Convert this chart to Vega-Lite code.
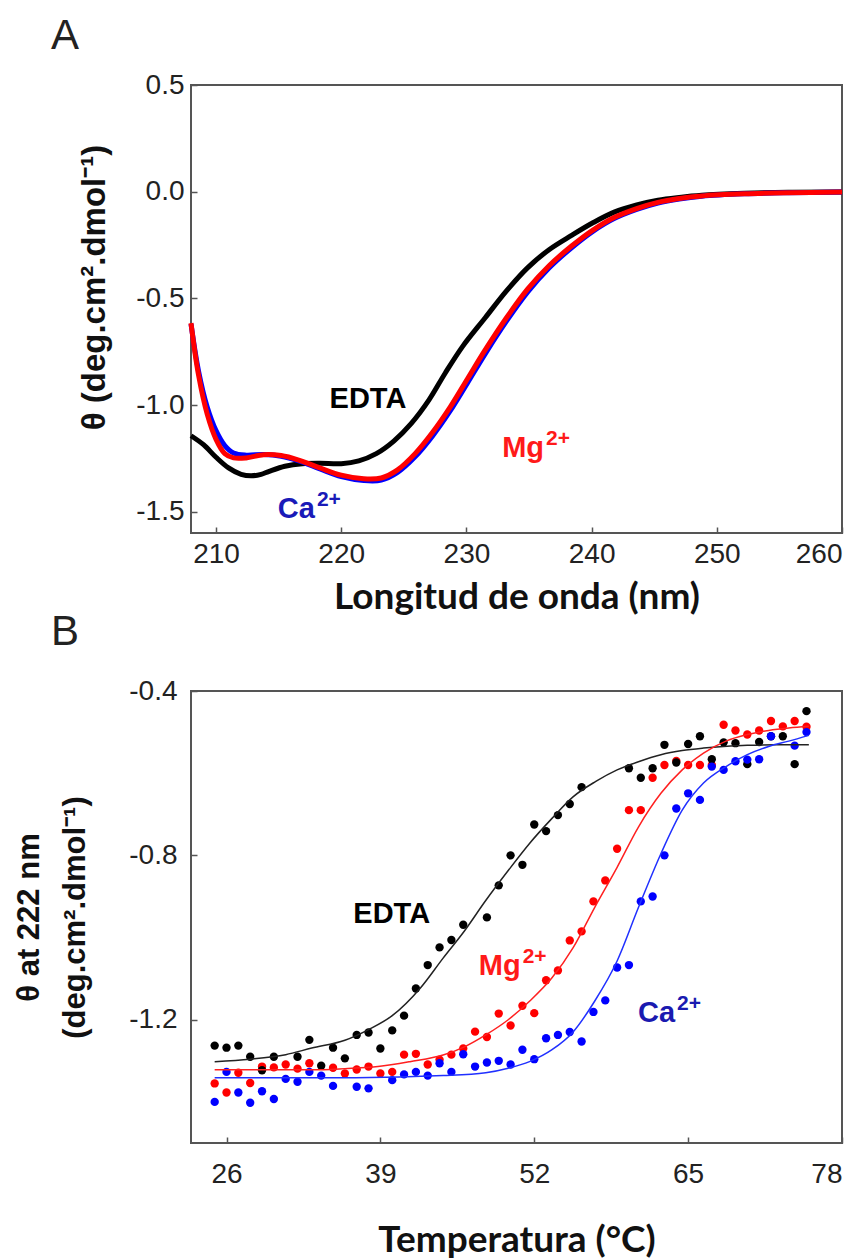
{
  "$schema": "https://vega.github.io/schema/vega-lite/v6.json",
  "background": "white",
  "padding": {"left": 12, "top": 14, "right": 0, "bottom": 0},
  "spacing": -6,
  "config": {
    "view": {"stroke": "#555555", "strokeWidth": 2},
    "axis": {
      "domain": false,
      "grid": false,
      "tickColor": "#555555",
      "tickWidth": 1.5,
      "tickSize": -6,
      "labelFont": "Liberation Sans",
      "labelFontSize": 28,
      "labelColor": "#222222",
      "titleColor": "#111111"
    },
    "title": {"font": "Liberation Sans", "fontSize": 42, "fontWeight": "normal", "color": "#222222", "anchor": "start", "frame": "group"}
  },
  "datasets": {
    "spectra": [
      {"wl": 208, "theta": -1.144, "ion": "EDTA"},
      {"wl": 209, "theta": -1.186, "ion": "EDTA"},
      {"wl": 210, "theta": -1.245, "ion": "EDTA"},
      {"wl": 211, "theta": -1.295, "ion": "EDTA"},
      {"wl": 212, "theta": -1.325, "ion": "EDTA"},
      {"wl": 212.8, "theta": -1.332, "ion": "EDTA"},
      {"wl": 213.6, "theta": -1.325, "ion": "EDTA"},
      {"wl": 214.2, "theta": -1.312, "ion": "EDTA"},
      {"wl": 215.5, "theta": -1.287, "ion": "EDTA"},
      {"wl": 216.9, "theta": -1.275, "ion": "EDTA"},
      {"wl": 218.3, "theta": -1.273, "ion": "EDTA"},
      {"wl": 220, "theta": -1.275, "ion": "EDTA"},
      {"wl": 221.4, "theta": -1.262, "ion": "EDTA"},
      {"wl": 222.8, "theta": -1.228, "ion": "EDTA"},
      {"wl": 224.2, "theta": -1.169, "ion": "EDTA"},
      {"wl": 225.6, "theta": -1.086, "ion": "EDTA"},
      {"wl": 227, "theta": -0.977, "ion": "EDTA"},
      {"wl": 228.3, "theta": -0.851, "ion": "EDTA"},
      {"wl": 229.7, "theta": -0.725, "ion": "EDTA"},
      {"wl": 231.5, "theta": -0.591, "ion": "EDTA"},
      {"wl": 233.2, "theta": -0.465, "ion": "EDTA"},
      {"wl": 234.9, "theta": -0.356, "ion": "EDTA"},
      {"wl": 236.6, "theta": -0.272, "ion": "EDTA"},
      {"wl": 238.4, "theta": -0.205, "ion": "EDTA"},
      {"wl": 240.1, "theta": -0.146, "ion": "EDTA"},
      {"wl": 241.8, "theta": -0.096, "ion": "EDTA"},
      {"wl": 243.6, "theta": -0.062, "ion": "EDTA"},
      {"wl": 245.3, "theta": -0.040, "ion": "EDTA"},
      {"wl": 247, "theta": -0.027, "ion": "EDTA"},
      {"wl": 248.8, "theta": -0.017, "ion": "EDTA"},
      {"wl": 252.2, "theta": -0.008, "ion": "EDTA"},
      {"wl": 255.7, "theta": -0.003, "ion": "EDTA"},
      {"wl": 260, "theta": -0.002, "ion": "EDTA"},
      {"wl": 208, "theta": -0.62, "ion": "Ca"},
      {"wl": 208.6, "theta": -0.84, "ion": "Ca"},
      {"wl": 209.3, "theta": -1.01, "ion": "Ca"},
      {"wl": 210, "theta": -1.12, "ion": "Ca"},
      {"wl": 210.7, "theta": -1.19, "ion": "Ca"},
      {"wl": 211.4, "theta": -1.225, "ion": "Ca"},
      {"wl": 212.4, "theta": -1.235, "ion": "Ca"},
      {"wl": 213.8, "theta": -1.232, "ion": "Ca"},
      {"wl": 215.2, "theta": -1.24, "ion": "Ca"},
      {"wl": 216.6, "theta": -1.262, "ion": "Ca"},
      {"wl": 218.3, "theta": -1.30, "ion": "Ca"},
      {"wl": 220, "theta": -1.336, "ion": "Ca"},
      {"wl": 221.8, "theta": -1.354, "ion": "Ca"},
      {"wl": 223.2, "theta": -1.352, "ion": "Ca"},
      {"wl": 224.5, "theta": -1.316, "ion": "Ca"},
      {"wl": 225.9, "theta": -1.243, "ion": "Ca"},
      {"wl": 227.3, "theta": -1.145, "ion": "Ca"},
      {"wl": 228.7, "theta": -1.028, "ion": "Ca"},
      {"wl": 230.1, "theta": -0.895, "ion": "Ca"},
      {"wl": 231.5, "theta": -0.76, "ion": "Ca"},
      {"wl": 233.2, "theta": -0.607, "ion": "Ca"},
      {"wl": 234.9, "theta": -0.47, "ion": "Ca"},
      {"wl": 236.6, "theta": -0.358, "ion": "Ca"},
      {"wl": 238.4, "theta": -0.263, "ion": "Ca"},
      {"wl": 240.1, "theta": -0.186, "ion": "Ca"},
      {"wl": 241.8, "theta": -0.126, "ion": "Ca"},
      {"wl": 243.6, "theta": -0.083, "ion": "Ca"},
      {"wl": 245.3, "theta": -0.053, "ion": "Ca"},
      {"wl": 247, "theta": -0.034, "ion": "Ca"},
      {"wl": 248.8, "theta": -0.021, "ion": "Ca"},
      {"wl": 252.2, "theta": -0.010, "ion": "Ca"},
      {"wl": 255.7, "theta": -0.005, "ion": "Ca"},
      {"wl": 260, "theta": -0.002, "ion": "Ca"},
      {"wl": 208, "theta": -0.616, "ion": "Mg"},
      {"wl": 208.6, "theta": -0.859, "ion": "Mg"},
      {"wl": 209.3, "theta": -1.044, "ion": "Mg"},
      {"wl": 210, "theta": -1.161, "ion": "Mg"},
      {"wl": 210.7, "theta": -1.228, "ion": "Mg"},
      {"wl": 211.4, "theta": -1.248, "ion": "Mg"},
      {"wl": 212.4, "theta": -1.248, "ion": "Mg"},
      {"wl": 213.8, "theta": -1.233, "ion": "Mg"},
      {"wl": 215.2, "theta": -1.237, "ion": "Mg"},
      {"wl": 216.6, "theta": -1.258, "ion": "Mg"},
      {"wl": 218.3, "theta": -1.295, "ion": "Mg"},
      {"wl": 220, "theta": -1.329, "ion": "Mg"},
      {"wl": 221.8, "theta": -1.346, "ion": "Mg"},
      {"wl": 223.2, "theta": -1.342, "ion": "Mg"},
      {"wl": 224.5, "theta": -1.304, "ion": "Mg"},
      {"wl": 225.9, "theta": -1.228, "ion": "Mg"},
      {"wl": 227.3, "theta": -1.128, "ion": "Mg"},
      {"wl": 228.7, "theta": -1.01, "ion": "Mg"},
      {"wl": 230.1, "theta": -0.876, "ion": "Mg"},
      {"wl": 231.5, "theta": -0.742, "ion": "Mg"},
      {"wl": 233.2, "theta": -0.591, "ion": "Mg"},
      {"wl": 234.9, "theta": -0.456, "ion": "Mg"},
      {"wl": 236.6, "theta": -0.347, "ion": "Mg"},
      {"wl": 238.4, "theta": -0.255, "ion": "Mg"},
      {"wl": 240.1, "theta": -0.180, "ion": "Mg"},
      {"wl": 241.8, "theta": -0.121, "ion": "Mg"},
      {"wl": 243.6, "theta": -0.079, "ion": "Mg"},
      {"wl": 245.3, "theta": -0.050, "ion": "Mg"},
      {"wl": 247, "theta": -0.032, "ion": "Mg"},
      {"wl": 248.8, "theta": -0.020, "ion": "Mg"},
      {"wl": 252.2, "theta": -0.010, "ion": "Mg"},
      {"wl": 255.7, "theta": -0.005, "ion": "Mg"},
      {"wl": 260, "theta": -0.002, "ion": "Mg"}
    ],
    "melt_points": [
      {"t": 25, "theta": -1.263, "ion": "EDTA"}, {"t": 26, "theta": -1.268, "ion": "EDTA"},
      {"t": 27, "theta": -1.263, "ion": "EDTA"}, {"t": 28, "theta": -1.290, "ion": "EDTA"},
      {"t": 29, "theta": -1.323, "ion": "EDTA"}, {"t": 30, "theta": -1.290, "ion": "EDTA"},
      {"t": 32, "theta": -1.290, "ion": "EDTA"}, {"t": 33, "theta": -1.249, "ion": "EDTA"},
      {"t": 34, "theta": -1.312, "ion": "EDTA"}, {"t": 35, "theta": -1.268, "ion": "EDTA"},
      {"t": 36, "theta": -1.294, "ion": "EDTA"}, {"t": 37, "theta": -1.237, "ion": "EDTA"},
      {"t": 38, "theta": -1.231, "ion": "EDTA"}, {"t": 39, "theta": -1.270, "ion": "EDTA"},
      {"t": 40, "theta": -1.226, "ion": "EDTA"}, {"t": 41, "theta": -1.190, "ion": "EDTA"},
      {"t": 42, "theta": -1.124, "ion": "EDTA"}, {"t": 43, "theta": -1.067, "ion": "EDTA"},
      {"t": 44, "theta": -1.024, "ion": "EDTA"}, {"t": 45, "theta": -1.006, "ion": "EDTA"},
      {"t": 46, "theta": -0.969, "ion": "EDTA"}, {"t": 48, "theta": -0.951, "ion": "EDTA"},
      {"t": 49, "theta": -0.873, "ion": "EDTA"}, {"t": 50, "theta": -0.800, "ion": "EDTA"},
      {"t": 51, "theta": -0.823, "ion": "EDTA"}, {"t": 52, "theta": -0.725, "ion": "EDTA"},
      {"t": 53, "theta": -0.741, "ion": "EDTA"}, {"t": 54, "theta": -0.702, "ion": "EDTA"},
      {"t": 55, "theta": -0.675, "ion": "EDTA"}, {"t": 56, "theta": -0.634, "ion": "EDTA"},
      {"t": 60, "theta": -0.588, "ion": "EDTA"}, {"t": 61, "theta": -0.611, "ion": "EDTA"},
      {"t": 62, "theta": -0.588, "ion": "EDTA"}, {"t": 63, "theta": -0.531, "ion": "EDTA"},
      {"t": 64, "theta": -0.574, "ion": "EDTA"}, {"t": 65, "theta": -0.529, "ion": "EDTA"},
      {"t": 66, "theta": -0.510, "ion": "EDTA"}, {"t": 67, "theta": -0.566, "ion": "EDTA"},
      {"t": 68, "theta": -0.525, "ion": "EDTA"}, {"t": 69, "theta": -0.527, "ion": "EDTA"},
      {"t": 70, "theta": -0.578, "ion": "EDTA"}, {"t": 71, "theta": -0.524, "ion": "EDTA"},
      {"t": 72, "theta": -0.510, "ion": "EDTA"}, {"t": 73, "theta": -0.510, "ion": "EDTA"},
      {"t": 74, "theta": -0.578, "ion": "EDTA"}, {"t": 75, "theta": -0.449, "ion": "EDTA"},
      {"t": 25, "theta": -1.355, "ion": "Mg"}, {"t": 26, "theta": -1.377, "ion": "Mg"},
      {"t": 27, "theta": -1.329, "ion": "Mg"}, {"t": 28, "theta": -1.354, "ion": "Mg"},
      {"t": 29, "theta": -1.314, "ion": "Mg"}, {"t": 30, "theta": -1.316, "ion": "Mg"},
      {"t": 31, "theta": -1.309, "ion": "Mg"}, {"t": 32, "theta": -1.319, "ion": "Mg"},
      {"t": 33, "theta": -1.306, "ion": "Mg"}, {"t": 35, "theta": -1.317, "ion": "Mg"},
      {"t": 36, "theta": -1.331, "ion": "Mg"}, {"t": 37, "theta": -1.321, "ion": "Mg"},
      {"t": 38, "theta": -1.314, "ion": "Mg"}, {"t": 39, "theta": -1.331, "ion": "Mg"},
      {"t": 40, "theta": -1.327, "ion": "Mg"}, {"t": 41, "theta": -1.285, "ion": "Mg"},
      {"t": 42, "theta": -1.283, "ion": "Mg"}, {"t": 43, "theta": -1.309, "ion": "Mg"},
      {"t": 44, "theta": -1.297, "ion": "Mg"}, {"t": 45, "theta": -1.285, "ion": "Mg"},
      {"t": 46, "theta": -1.270, "ion": "Mg"}, {"t": 47, "theta": -1.229, "ion": "Mg"},
      {"t": 48, "theta": -1.242, "ion": "Mg"}, {"t": 49, "theta": -1.185, "ion": "Mg"},
      {"t": 50, "theta": -1.214, "ion": "Mg"}, {"t": 51, "theta": -1.166, "ion": "Mg"},
      {"t": 52, "theta": -1.184, "ion": "Mg"}, {"t": 53, "theta": -1.104, "ion": "Mg"},
      {"t": 54, "theta": -1.080, "ion": "Mg"}, {"t": 55, "theta": -1.007, "ion": "Mg"},
      {"t": 56, "theta": -0.985, "ion": "Mg"}, {"t": 57, "theta": -0.912, "ion": "Mg"},
      {"t": 58, "theta": -0.861, "ion": "Mg"}, {"t": 59, "theta": -0.784, "ion": "Mg"},
      {"t": 60, "theta": -0.690, "ion": "Mg"}, {"t": 61, "theta": -0.690, "ion": "Mg"},
      {"t": 62, "theta": -0.611, "ion": "Mg"}, {"t": 63, "theta": -0.580, "ion": "Mg"},
      {"t": 64, "theta": -0.570, "ion": "Mg"}, {"t": 65, "theta": -0.580, "ion": "Mg"},
      {"t": 66, "theta": -0.580, "ion": "Mg"}, {"t": 67, "theta": -0.580, "ion": "Mg"},
      {"t": 68, "theta": -0.482, "ion": "Mg"}, {"t": 69, "theta": -0.496, "ion": "Mg"},
      {"t": 70, "theta": -0.506, "ion": "Mg"}, {"t": 71, "theta": -0.496, "ion": "Mg"},
      {"t": 72, "theta": -0.473, "ion": "Mg"}, {"t": 73, "theta": -0.486, "ion": "Mg"},
      {"t": 74, "theta": -0.473, "ion": "Mg"}, {"t": 75, "theta": -0.487, "ion": "Mg"},
      {"t": 25, "theta": -1.400, "ion": "Ca"}, {"t": 26, "theta": -1.327, "ion": "Ca"},
      {"t": 27, "theta": -1.377, "ion": "Ca"}, {"t": 28, "theta": -1.402, "ion": "Ca"},
      {"t": 29, "theta": -1.374, "ion": "Ca"}, {"t": 30, "theta": -1.393, "ion": "Ca"},
      {"t": 31, "theta": -1.344, "ion": "Ca"}, {"t": 32, "theta": -1.351, "ion": "Ca"},
      {"t": 33, "theta": -1.327, "ion": "Ca"}, {"t": 34, "theta": -1.336, "ion": "Ca"},
      {"t": 35, "theta": -1.361, "ion": "Ca"}, {"t": 37, "theta": -1.363, "ion": "Ca"},
      {"t": 38, "theta": -1.367, "ion": "Ca"}, {"t": 40, "theta": -1.347, "ion": "Ca"},
      {"t": 41, "theta": -1.333, "ion": "Ca"}, {"t": 42, "theta": -1.327, "ion": "Ca"},
      {"t": 43, "theta": -1.336, "ion": "Ca"}, {"t": 44, "theta": -1.306, "ion": "Ca"},
      {"t": 45, "theta": -1.327, "ion": "Ca"}, {"t": 46, "theta": -1.284, "ion": "Ca"},
      {"t": 47, "theta": -1.314, "ion": "Ca"}, {"t": 48, "theta": -1.304, "ion": "Ca"},
      {"t": 49, "theta": -1.300, "ion": "Ca"}, {"t": 50, "theta": -1.309, "ion": "Ca"},
      {"t": 51, "theta": -1.273, "ion": "Ca"}, {"t": 52, "theta": -1.296, "ion": "Ca"},
      {"t": 53, "theta": -1.245, "ion": "Ca"}, {"t": 54, "theta": -1.237, "ion": "Ca"},
      {"t": 55, "theta": -1.230, "ion": "Ca"}, {"t": 56, "theta": -1.253, "ion": "Ca"},
      {"t": 57, "theta": -1.181, "ion": "Ca"}, {"t": 58, "theta": -1.153, "ion": "Ca"},
      {"t": 59, "theta": -1.073, "ion": "Ca"}, {"t": 60, "theta": -1.067, "ion": "Ca"},
      {"t": 61, "theta": -0.912, "ion": "Ca"}, {"t": 62, "theta": -0.900, "ion": "Ca"},
      {"t": 63, "theta": -0.800, "ion": "Ca"}, {"t": 64, "theta": -0.686, "ion": "Ca"},
      {"t": 65, "theta": -0.649, "ion": "Ca"}, {"t": 66, "theta": -0.665, "ion": "Ca"},
      {"t": 67, "theta": -0.584, "ion": "Ca"}, {"t": 68, "theta": -0.592, "ion": "Ca"},
      {"t": 69, "theta": -0.571, "ion": "Ca"}, {"t": 70, "theta": -0.567, "ion": "Ca"},
      {"t": 71, "theta": -0.566, "ion": "Ca"}, {"t": 72, "theta": -0.510, "ion": "Ca"},
      {"t": 74, "theta": -0.533, "ion": "Ca"}, {"t": 75, "theta": -0.500, "ion": "Ca"}
    ],
    "melt_fit": [
      {"t": 25, "theta": -1.302, "ion": "EDTA"}, {"t": 28, "theta": -1.296, "ion": "EDTA"},
      {"t": 31, "theta": -1.285, "ion": "EDTA"}, {"t": 33.2, "theta": -1.269, "ion": "EDTA"},
      {"t": 36, "theta": -1.250, "ion": "EDTA"}, {"t": 38, "theta": -1.224, "ion": "EDTA"},
      {"t": 40, "theta": -1.190, "ion": "EDTA"}, {"t": 42.4, "theta": -1.122, "ion": "EDTA"},
      {"t": 44.3, "theta": -1.050, "ion": "EDTA"}, {"t": 46.1, "theta": -0.984, "ion": "EDTA"},
      {"t": 47.9, "theta": -0.910, "ion": "EDTA"}, {"t": 49.8, "theta": -0.837, "ion": "EDTA"},
      {"t": 51.6, "theta": -0.771, "ion": "EDTA"}, {"t": 53.5, "theta": -0.710, "ion": "EDTA"},
      {"t": 55.3, "theta": -0.657, "ion": "EDTA"}, {"t": 57.2, "theta": -0.620, "ion": "EDTA"},
      {"t": 59, "theta": -0.592, "ion": "EDTA"}, {"t": 60.8, "theta": -0.572, "ion": "EDTA"},
      {"t": 62.7, "theta": -0.555, "ion": "EDTA"}, {"t": 64.5, "theta": -0.545, "ion": "EDTA"},
      {"t": 66.3, "theta": -0.539, "ion": "EDTA"}, {"t": 68, "theta": -0.535, "ion": "EDTA"},
      {"t": 70, "theta": -0.532, "ion": "EDTA"}, {"t": 72.5, "theta": -0.531, "ion": "EDTA"},
      {"t": 75.2, "theta": -0.531, "ion": "EDTA"},
      {"t": 25, "theta": -1.322, "ion": "Mg"}, {"t": 30, "theta": -1.322, "ion": "Mg"},
      {"t": 33.2, "theta": -1.322, "ion": "Mg"}, {"t": 36, "theta": -1.319, "ion": "Mg"},
      {"t": 38.8, "theta": -1.314, "ion": "Mg"}, {"t": 41.5, "theta": -1.302, "ion": "Mg"},
      {"t": 44.3, "theta": -1.286, "ion": "Mg"}, {"t": 46.1, "theta": -1.266, "ion": "Mg"},
      {"t": 47.9, "theta": -1.237, "ion": "Mg"}, {"t": 49.8, "theta": -1.200, "ion": "Mg"},
      {"t": 51.6, "theta": -1.155, "ion": "Mg"}, {"t": 53.5, "theta": -1.098, "ion": "Mg"},
      {"t": 55.3, "theta": -1.024, "ion": "Mg"}, {"t": 57.1, "theta": -0.927, "ion": "Mg"},
      {"t": 59, "theta": -0.829, "ion": "Mg"}, {"t": 60.8, "theta": -0.731, "ion": "Mg"},
      {"t": 62.7, "theta": -0.649, "ion": "Mg"}, {"t": 64.5, "theta": -0.592, "ion": "Mg"},
      {"t": 66.3, "theta": -0.551, "ion": "Mg"}, {"t": 68.2, "theta": -0.522, "ion": "Mg"},
      {"t": 70, "theta": -0.506, "ion": "Mg"}, {"t": 71.8, "theta": -0.496, "ion": "Mg"},
      {"t": 73.5, "theta": -0.490, "ion": "Mg"}, {"t": 75.2, "theta": -0.486, "ion": "Mg"},
      {"t": 25, "theta": -1.341, "ion": "Ca"}, {"t": 30, "theta": -1.341, "ion": "Ca"},
      {"t": 36.9, "theta": -1.341, "ion": "Ca"}, {"t": 44.3, "theta": -1.336, "ion": "Ca"},
      {"t": 47.9, "theta": -1.329, "ion": "Ca"}, {"t": 49.8, "theta": -1.318, "ion": "Ca"},
      {"t": 51.6, "theta": -1.302, "ion": "Ca"}, {"t": 53.5, "theta": -1.273, "ion": "Ca"},
      {"t": 55.3, "theta": -1.229, "ion": "Ca"}, {"t": 57.1, "theta": -1.155, "ion": "Ca"},
      {"t": 59, "theta": -1.057, "ion": "Ca"}, {"t": 60.8, "theta": -0.927, "ion": "Ca"},
      {"t": 62.7, "theta": -0.796, "ion": "Ca"}, {"t": 64.5, "theta": -0.690, "ion": "Ca"},
      {"t": 66.3, "theta": -0.624, "ion": "Ca"}, {"t": 68.2, "theta": -0.584, "ion": "Ca"},
      {"t": 70, "theta": -0.555, "ion": "Ca"}, {"t": 71.8, "theta": -0.535, "ion": "Ca"},
      {"t": 73.5, "theta": -0.522, "ion": "Ca"}, {"t": 75.2, "theta": -0.508, "ion": "Ca"}
    ],
    "labels_a": [
      {"wl": 225.2, "theta": -0.972, "base": "EDTA", "sup": "", "ion": "EDTA"},
      {"wl": 236.2, "theta": -1.203, "base": "Mg", "sup": "2+", "ion": "Mg"},
      {"wl": 217.9, "theta": -1.486, "base": "Ca", "sup": "2+", "ion": "Ca"}
    ],
    "labels_b": [
      {"t": 43.2, "theta": -0.942, "base": "EDTA", "sup": "", "ion": "EDTA"},
      {"t": 50.85, "theta": -1.07, "base": "Mg", "sup": "2+", "ion": "Mg"},
      {"t": 63.9, "theta": -1.183, "base": "Ca", "sup": "2+", "ion": "Ca"}
    ]
  },
  "vconcat": [
    {
      "width": 651,
      "height": 448,
      "title": {"text": "A", "dx": -140, "offset": 13},
      "encoding": {
        "x": {
          "field": "wl", "type": "quantitative",
          "scale": {"domain": [208, 260], "nice": false, "zero": false},
          "axis": {
            "values": [210, 220, 230, 240, 250, 260],
            "labelPadding": 13,
            "title": "Longitud de onda (nm)",
            "titleFont": "Lato", "titleFontSize": 37, "titleFontWeight": "bold",
            "titleBaseline": "alphabetic", "titleY": 75
          }
        },
        "y": {
          "field": "theta", "type": "quantitative",
          "scale": {"domain": [-1.6, 0.5], "nice": false, "zero": false},
          "axis": {
            "values": [-1.5, -1, -0.5, 0, 0.5],
            "labelExpr": "replace(format(datum.value, '.1f'), '\u2212', '-')",
            "labelPadding": 13,
            "title": "θ (deg.cm².dmol⁻¹)",
            "titleFont": "Liberation Sans", "titleFontSize": 33, "titleFontWeight": "bold",
            "titleAngle": 270, "titleAlign": "center", "titleBaseline": "middle",
            "titleX": -97, "titleY": 202
          }
        }
      },
      "layer": [
        {
          "mark": {"type": "rule", "color": "#444444", "strokeWidth": 1.5, "strokeDash": [2, 3]},
          "encoding": {"y": {"datum": 0, "type": "quantitative"}, "x": null}
        },
        {
          "data": {"name": "spectra"},
          "transform": [{"filter": "datum.ion === 'EDTA'"}],
          "mark": {"type": "line", "color": "#000000", "strokeWidth": 5, "interpolate": "catmull-rom"}
        },
        {
          "data": {"name": "spectra"},
          "transform": [{"filter": "datum.ion === 'Ca'"}],
          "mark": {"type": "line", "color": "#0000ff", "strokeWidth": 5, "interpolate": "catmull-rom"}
        },
        {
          "data": {"name": "spectra"},
          "transform": [{"filter": "datum.ion === 'Mg'"}],
          "mark": {"type": "line", "color": "#ff0000", "strokeWidth": 5, "interpolate": "catmull-rom"}
        },
        {
          "data": {"name": "labels_a"},
          "mark": {"type": "text", "font": "Liberation Sans", "fontSize": 29, "fontWeight": "bold", "align": "right", "baseline": "middle"},
          "encoding": {
            "text": {"field": "base"},
            "color": {"field": "ion", "type": "nominal", "scale": {"domain": ["EDTA", "Mg", "Ca"], "range": ["#000000", "#ff1a1a", "#1a1ab8"]}, "legend": null}
          }
        },
        {
          "data": {"name": "labels_a"},
          "mark": {"type": "text", "font": "Liberation Sans", "fontSize": 21, "fontWeight": "bold", "align": "left", "baseline": "middle", "dx": 2, "dy": -9},
          "encoding": {
            "text": {"field": "sup"},
            "color": {"field": "ion", "type": "nominal", "scale": {"domain": ["EDTA", "Mg", "Ca"], "range": ["#000000", "#ff1a1a", "#1a1ab8"]}, "legend": null}
          }
        }
      ]
    },
    {
      "width": 651,
      "height": 452,
      "title": {"text": "B", "dx": -140, "offset": 23},
      "resolve": {"scale": {"color": "independent"}},
      "encoding": {
        "x": {
          "field": "t", "type": "quantitative",
          "scale": {"domain": [23, 78], "nice": false, "zero": false},
          "axis": {
            "values": [26, 39, 52, 65, 78],
            "labelPadding": 23,
            "title": "Temperatura (°C)",
            "titleFont": "Lato", "titleFontSize": 37, "titleFontWeight": "bold",
            "titleBaseline": "alphabetic", "titleY": 108
          }
        },
        "y": {
          "field": "theta", "type": "quantitative",
          "scale": {"domain": [-1.5, -0.4], "nice": false, "zero": false},
          "axis": {
            "values": [-1.2, -0.8, -0.4],
            "labelExpr": "replace(format(datum.value, '.1f'), '\u2212', '-')",
            "labelPadding": 20,
            "title": ["θ at 222 nm", "(deg.cm².dmol⁻¹)"],
            "titleFont": "Liberation Sans", "titleFontSize": 31, "titleFontWeight": "bold",
            "titleLineHeight": 46,
            "titleAngle": 270, "titleAlign": "center", "titleBaseline": "middle",
            "titleX": -162, "titleY": 226
          }
        }
      },
      "layer": [
        {
          "data": {"name": "melt_points"},
          "mark": {"type": "circle", "size": 70, "opacity": 1},
          "encoding": {
            "color": {"field": "ion", "type": "nominal", "scale": {"domain": ["EDTA", "Mg", "Ca"], "range": ["#000000", "#ff0000", "#0000ff"]}, "legend": null},
            "order": {"field": "ion", "sort": "descending"}
          }
        },
        {
          "data": {"name": "melt_fit"},
          "transform": [{"filter": "datum.ion === 'EDTA'"}],
          "mark": {"type": "line", "color": "#222222", "strokeWidth": 1.5, "interpolate": "monotone"}
        },
        {
          "data": {"name": "melt_fit"},
          "transform": [{"filter": "datum.ion === 'Mg'"}],
          "mark": {"type": "line", "color": "#ff2020", "strokeWidth": 1.5, "interpolate": "monotone"}
        },
        {
          "data": {"name": "melt_fit"},
          "transform": [{"filter": "datum.ion === 'Ca'"}],
          "mark": {"type": "line", "color": "#2030ff", "strokeWidth": 1.5, "interpolate": "monotone"}
        },
        {
          "data": {"name": "labels_b"},
          "mark": {"type": "text", "font": "Liberation Sans", "fontSize": 29, "fontWeight": "bold", "align": "right", "baseline": "middle"},
          "encoding": {
            "text": {"field": "base"},
            "color": {"field": "ion", "type": "nominal", "scale": {"domain": ["EDTA", "Mg", "Ca"], "range": ["#000000", "#ff1a1a", "#1a1ab0"]}, "legend": null}
          }
        },
        {
          "data": {"name": "labels_b"},
          "mark": {"type": "text", "font": "Liberation Sans", "fontSize": 21, "fontWeight": "bold", "align": "left", "baseline": "middle", "dx": 2, "dy": -9},
          "encoding": {
            "text": {"field": "sup"},
            "color": {"field": "ion", "type": "nominal", "scale": {"domain": ["EDTA", "Mg", "Ca"], "range": ["#000000", "#ff1a1a", "#1a1ab0"]}, "legend": null}
          }
        }
      ]
    }
  ]
}
